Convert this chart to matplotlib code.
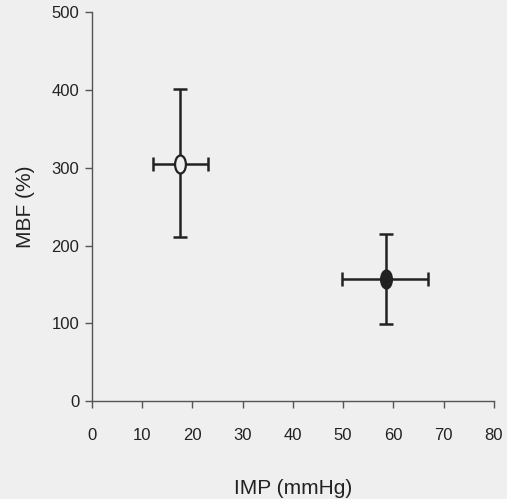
import matplotlib
matplotlib.use("Agg")
import matplotlib.pyplot as plt
from matplotlib.markers import MarkerStyle
from matplotlib.transforms import Affine2D

plt.rcParams['font.family'] = ['Liberation Sans', 'DejaVu Sans']

# data
imp = [17.5, 58.5]
mbf = [305, 157]
imp_lo = [12.1, 49.8]
imp_hi = [23.1, 66.9]
mbf_lo = [211, 99]
mbf_hi = [401, 215]
fills = ['none', '#222222']

bg = '#efefef'
fig = plt.figure(figsize=(5.07, 4.99), dpi=100, facecolor=bg)
ax = fig.add_axes([0.181, 0.196, 0.793, 0.780], facecolor=bg)

for i in range(len(imp)):
    xerr = [[imp[i] - imp_lo[i]], [imp_hi[i] - imp[i]]]
    yerr = [[mbf[i] - mbf_lo[i]], [mbf_hi[i] - mbf[i]]]
    ax.errorbar([imp[i]], [mbf[i]], xerr=xerr, yerr=yerr, fmt='none',
                ecolor='#222222', elinewidth=1.8, capsize=5, capthick=1.8, zorder=2)
    m = MarkerStyle('o', transform=Affine2D().scale(0.6, 1.0))
    ax.plot([imp[i]], [mbf[i]], linestyle='none', marker=m, markersize=13,
            markerfacecolor=(bg if fills[i] == 'none' else fills[i]),
            markeredgecolor='#222222', markeredgewidth=1.6, zorder=3)

ax.set_xlim(0, 80)
ax.set_ylim(0, 500)
ax.set_xticks(range(0, 81, 10))
ax.set_yticks(range(0, 501, 100))
for s in ['top', 'right']:
    ax.spines[s].set_visible(False)
for s in ['left', 'bottom']:
    ax.spines[s].set_color('#555555')
    ax.spines[s].set_linewidth(1.0)
ax.tick_params(axis='both', direction='out', length=5, width=1, color='#555555',
               labelsize=12, labelcolor='#222222')
ax.tick_params(axis='x', pad=14)
ax.tick_params(axis='y', pad=4)
ax.set_xlabel('IMP (mmHg)', fontsize=15, color='#222222', labelpad=26)
ax.set_ylabel('MBF (%)', fontsize=15, color='#222222', labelpad=12)

fig.savefig('out.png', dpi=100, facecolor=bg)
